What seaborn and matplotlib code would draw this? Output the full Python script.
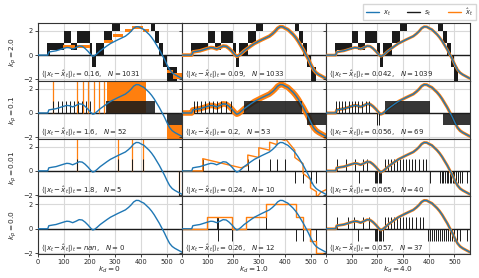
import matplotlib
matplotlib.use('Agg')
import matplotlib.pyplot as plt
from matplotlib.lines import Line2D
import seaborn as sns

kp_vals = ['2.0', '0.1', '0.01', '0.0']
kd_vals = ['0', '1.0', '4.0']
err_vals = [['0.16', '0.09', '0.042'],
            ['1.6', '0.2', '0.056'],
            ['1.8', '0.24', '0.065'],
            ['nan', '0.26', '0.057']]
n_vals = [[1031, 1033, 1039], [52, 53, 69], [5, 10, 40], [0, 12, 37]]

# target signal x_t
t_x = [0, 38, 42, 55, 70, 85, 100, 112, 122, 135, 148, 160, 172, 183, 195, 205, 213,
       220, 230, 242, 255, 268, 282, 296, 310, 325, 340, 352, 362, 372, 382, 392, 402,
       412, 422, 432, 442, 452, 462, 472, 482, 492, 502, 512, 522, 532, 545, 560]
x_vals = [0, 0, 0.25, 0.3, 0.35, 0.45, 0.55, 0.62, 0.6, 0.5, 0.62, 0.75, 0.72, 0.55, 0.3,
          0.05, -0.1, -0.05, 0.12, 0.35, 0.55, 0.75, 0.95, 1.1, 1.25, 1.4, 1.55, 1.75,
          1.95, 2.2, 2.33, 2.32, 2.2, 2.1, 1.9, 1.7, 1.45, 1.15, 0.8, 0.45, 0.05, -0.35,
          -0.8, -1.2, -1.45, -1.6, -1.75, -1.92]

# dense spike regions drawn as blocks: (t_start, t_end, low, high)
kp2_black = [
    [(36, 46, 0, 1), (46, 100, 0.4, 1), (100, 130, 1, 2), (130, 152, 0.4, 1), (152, 202, 1, 2),
     (202, 212, 0, 1), (212, 226, -1, 0), (226, 255, 0, 1), (255, 287, 1, 2), (287, 318, 2, 2.7),
     (438, 455, 2, 2.7), (455, 470, 1, 2), (470, 485, 0, 1), (485, 500, -1, 0), (500, 540, -2.1, -1)],
    [(35, 44, 0, 1), (44, 100, 0.4, 1), (100, 128, 1, 2), (128, 152, 0.4, 1), (152, 198, 1, 2),
     (198, 210, 0, 1), (210, 222, -1, 0), (222, 255, 0, 1), (255, 287, 1, 2), (287, 316, 2, 2.7),
     (440, 457, 2, 2.7), (457, 472, 1, 2), (472, 487, 0, 1), (487, 502, -1, 0), (502, 520, -2.1, -1)],
    [(35, 44, 0, 1), (44, 100, 0.4, 1), (100, 125, 1, 2), (125, 152, 0.4, 1), (152, 200, 1, 2),
     (200, 212, 0, 1), (212, 222, -1, 0), (222, 257, 0, 1), (257, 289, 1, 2), (289, 316, 2, 2.7),
     (437, 457, 2, 2.7), (457, 470, 1, 2), (470, 485, 0, 1), (485, 500, -1, 0), (500, 515, -2.1, -1)],
]
kp2_orange = [(99, 144, 0.6, 0.8), (151, 203, 0.6, 0.8), (255, 290, 1.0, 1.2),
              (290, 330, 1.5, 1.75), (340, 365, 1.9, 2.1), (365, 410, 2.1, 2.4), (410, 430, 1.9, 2.1),
              (500, 525, -1.2, -1.5), (525, 560, -1.5, -2.0)]

kp01_up = [[57, 77, 94, 109, 126, 139, 155, 172, 187, 203],
           [45, 60, 75, 90, 105, 120, 135, 150, 170, 190],
           [39, 50, 62, 75, 88, 100, 112, 125, 140, 155, 169]]
kp01_down = [[], [], [198, 205]]
kp01_black = [[(265, 455, 0, 1), (500, 560, -1, 0)],
              [(240, 465, 0, 1), (485, 560, -1, 0)],
              [(228, 404, 0, 1), (456, 560, -1, 0)]]
kp01_orange_up = [60, 153, 177, 196, 216, 237, 258]
kp01_orange = [(268, 420, 0, 2.7), (500, 560, -1, -2.1)]

kp001_up = [[150, 310, 365, 410],
            [81, 256, 299, 341, 370, 400],
            [45, 80, 112, 145, 160, 228, 240, 252, 264, 276, 288, 300, 312, 324, 336, 348, 362, 376, 390]]
kp001_down = [[548],
              [439, 471, 500, 523],
              [130, 189, 195, 200, 205, 210, 215, 404, 443, 450, 457, 464, 470, 476, 482, 488, 494,
               500, 506, 512, 520, 530, 547]]
# sawtooth estimate for kp=0.01, kd=1.0
kp001_hat_t = [0, 81, 81, 230, 256, 256, 299, 299, 341, 341, 370, 370, 400, 400, 439, 439, 471,
               471, 500, 500, 523, 523, 540, 560]
kp001_hat = [0, 0, 1.0, 0.25, 0.45, 1.3, 1.1, 1.9, 1.7, 2.35, 2.15, 2.7, 2.5, 2.7, 1.7, 1.1, 0.6,
             -0.2, -0.7, -1.4, -1.7, -2.2, -1.75, -1.55]

kp0_up = [[], [96, 138, 142, 250, 326],
          [45, 85, 111, 143, 169, 228, 240, 252, 264, 276, 288, 300, 312, 324, 336, 350, 364, 378]]
kp0_down = [[], [140, 195, 445, 471, 497, 523],
            [124, 189, 195, 200, 205, 210, 215, 221, 397, 405, 412, 420, 428, 436, 444, 452, 460,
             468, 476, 484, 492, 500, 510, 520, 547]]
kp0_hat_t = [0, 96, 96, 195, 195, 250, 250, 326, 326, 445, 445, 471, 471, 497, 497, 523, 523, 560]
kp0_hat = [0, 0, 1, 1, 0, 0, 1, 1, 2, 2, 1, 1, 0, 0, -1, -1, -2, -2]

blue, orange = '#1f77b4', '#ff7f0e'

sns.set_theme(style='ticks', rc={'axes.grid': True, 'grid.color': '#d9d9d9', 'grid.linewidth': 0.8,
                                 'xtick.labelsize': 4.8, 'ytick.labelsize': 4.8,
                                 'axes.labelsize': 5.3, 'xtick.major.size': 2, 'ytick.major.size': 2,
                                 'xtick.major.width': 0.6, 'ytick.major.width': 0.6,
                                 'axes.edgecolor': '#333333', 'axes.linewidth': 0.8})
plt.rcParams['font.family'] = ['DejaVu Sans']

fig, axes = plt.subplots(4, 3, figsize=(4.79, 2.78), dpi=100, sharex=True, sharey=True,
                         gridspec_kw=dict(hspace=0, wspace=0))
fig.subplots_adjust(left=0.0793, right=0.981, top=0.918, bottom=0.085)


def blocks(ax, blk, color, z, alpha=1.0):
    for t0, t1, lo, hi in blk:
        ax.fill_between([t0, t1], lo, hi, color=color, lw=0, zorder=z, alpha=alpha)


for r in range(4):
    for c in range(3):
        ax = axes[r, c]
        ax.axhline(0, color='k', lw=1.0, zorder=1.5)
        if r == 0:
            blocks(ax, kp2_black[c], 'k', 2)
            if c == 0:
                blocks(ax, kp2_orange, orange, 2.5)
            else:
                sns.lineplot(x=t_x, y=x_vals, ax=ax, color=orange, lw=2.6 if c == 1 else 2.0, zorder=2.6)
        elif r == 1:
            blocks(ax, kp01_black[c], 'k', 2, alpha=0.88)
            ax.vlines(kp01_up[c], 0, 1, color='k', lw=0.7, zorder=2)
            ax.vlines(kp01_down[c], -1, 0, color='k', lw=0.7, zorder=2)
            if c == 0:
                ax.vlines(kp01_orange_up, 0, 2.7, color=orange, lw=0.9, zorder=1.8)
                blocks(ax, kp01_orange, orange, 1.8)
            else:
                sns.lineplot(x=t_x, y=x_vals, ax=ax, color=orange, lw=4.0 if c == 1 else 2.2, zorder=1.9)
        elif r == 2:
            ax.vlines(kp001_up[c], 0, 1, color='k', lw=0.7, zorder=2)
            ax.vlines(kp001_down[c], -1, 0, color='k', lw=0.7, zorder=2)
            if c == 0:
                ax.vlines(kp001_up[0], 0, 2.7, color=orange, lw=0.9, zorder=1.8)
                ax.vlines(kp001_down[0], -2.1, 0, color=orange, lw=0.9, zorder=1.8)
                ax.vlines(kp001_down[0], -2.1, 0, color='k', lw=0.7, zorder=2)
            elif c == 1:
                ax.plot(kp001_hat_t, kp001_hat, color=orange, lw=1.0, zorder=2.5)
            else:
                sns.lineplot(x=t_x, y=x_vals, ax=ax, color=orange, lw=2.0, zorder=2.5)
        else:
            ax.vlines(kp0_up[c], 0, 1, color='k', lw=0.7, zorder=2)
            ax.vlines(kp0_down[c], -1, 0, color='k', lw=0.7, zorder=2)
            if c == 1:
                ax.plot(kp0_hat_t, kp0_hat, color=orange, lw=1.0, zorder=2.5)
            elif c == 2:
                sns.lineplot(x=t_x, y=x_vals, ax=ax, color=orange, lw=2.0, zorder=2.5)
        sns.lineplot(x=t_x, y=x_vals, ax=ax, color=blue, lw=1.0, zorder=3)
        ax.text(0.02, 0.1, r'$\langle|x_t-\hat{x}_t|\rangle_t = %s$,   $N = %d$' % (err_vals[r][c], n_vals[r][c]),
                transform=ax.transAxes, fontsize=5.0, va='center', ha='left', zorder=5)
        ax.set_xlim(0, 560)
        ax.set_ylim(-2.1, 2.65)
        ax.set_xticks([0, 100, 200, 300, 400, 500])
        ax.set_yticks([-2, 0, 2])
        ax.tick_params(pad=1.5)
        if c == 0:
            ax.set_ylabel(r'$k_p = %s$' % kp_vals[r], labelpad=3)
        if r == 3:
            ax.set_xlabel(r'$k_d = %s$' % kd_vals[c], labelpad=0)

handles = [Line2D([], [], color=blue, lw=1.0), Line2D([], [], color='k', lw=1.0),
           Line2D([], [], color=orange, lw=1.0)]
fig.legend(handles, [r'$x_t$', r'$s_t$', r'$\hat{x}_t$'], loc='upper right', ncol=3,
           bbox_to_anchor=(1.0, 0.998), fontsize=4.8, frameon=True, handlelength=2.0,
           columnspacing=2.4, borderpad=0.35, handletextpad=0.6, fancybox=False, edgecolor='#cccccc')

fig.savefig('out.png', dpi=100)
